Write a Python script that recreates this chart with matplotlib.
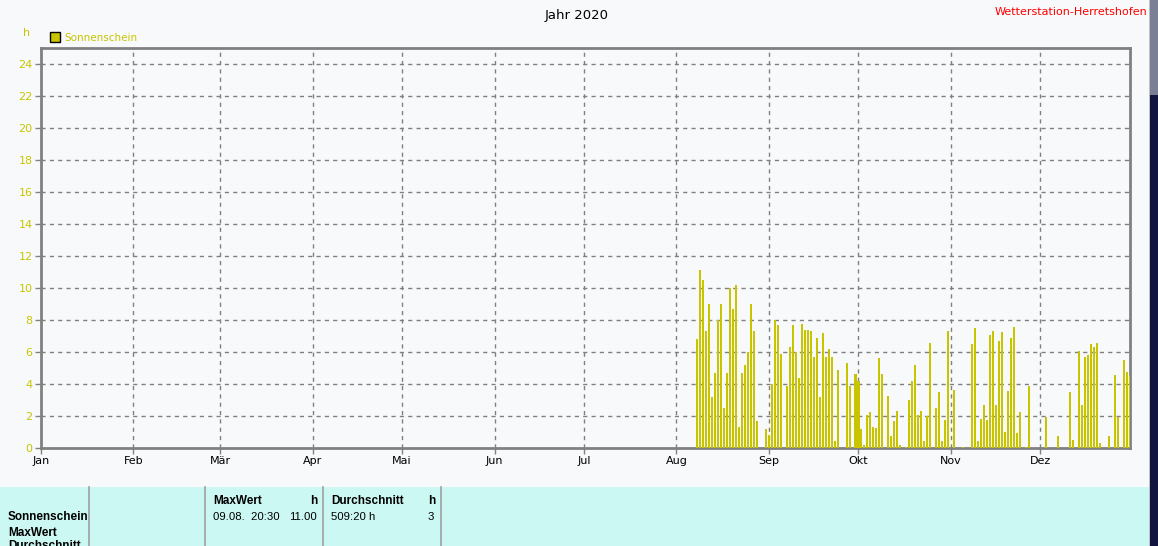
import numpy as np
import matplotlib
matplotlib.use("Agg")
import matplotlib.pyplot as plt
import matplotlib.dates as mdates
from matplotlib.patches import Rectangle

# daily sunshine hours 2020 (only days with a value)
aug_days = [8, 9, 10, 11, 12, 13, 14, 15, 16, 17, 18, 19, 20, 21, 22, 23, 24, 25, 26, 27, 28, 31]
aug_vals = [6.8, 11.1, 10.5, 7.3, 9.0, 3.2, 4.7, 8.0, 9.0, 2.5, 4.7, 10.0, 8.7, 10.2, 1.3, 4.7, 5.2, 6.0, 9.0, 7.3, 1.7, 1.2]
sep_days = [1, 2, 3, 4, 5, 7, 8, 9, 10, 11, 12, 13, 14, 15, 16, 17, 18, 19, 20, 21, 22, 23, 24, 27, 28, 30]
sep_vals = [0.8, 4.0, 8.0, 7.7, 5.9, 3.9, 6.3, 7.7, 6.0, 4.4, 7.75, 7.4, 7.4, 7.3, 5.7, 6.9, 3.2, 7.2, 5.7, 6.2, 5.7, 0.44, 4.9, 5.3, 3.9, 4.6]
okt_days = [1, 2, 3, 4, 5, 6, 7, 8, 9, 11, 12, 13, 14, 15, 17, 18, 19, 20, 21, 22, 23, 24, 25, 27, 28, 29, 30, 31]
okt_vals = [4.2, 1.2, 0.2, 2.06, 2.25, 1.3, 1.25, 5.6, 4.6, 3.25, 0.75, 1.7, 2.3, 0.2, 0.05, 3.0, 4.2, 5.2, 2.06, 2.3, 0.44, 2.0, 6.56, 2.5, 3.5, 0.44, 1.75, 7.3]
nov_days = [2, 5, 8, 9, 10, 11, 12, 13, 14, 15, 16, 17, 18, 19, 20, 21, 22, 23, 24, 26, 27]
nov_vals = [3.6, 0.05, 6.5, 7.5, 0.44, 1.8, 2.7, 1.75, 7.06, 7.3, 2.7, 6.7, 7.25, 1.0, 3.56, 6.9, 7.56, 0.94, 2.25, 0.05, 3.9]
dez_days = [3, 7, 11, 12, 14, 15, 16, 17, 18, 19, 20, 21, 24, 26, 27, 29, 30, 31]
dez_vals = [1.94, 0.75, 3.5, 0.5, 6.06, 2.7, 5.7, 5.8, 6.5, 6.3, 6.56, 0.3, 0.75, 4.56, 1.94, 5.5, 4.75, 4.5]

month_labels = ["Jan", "Feb", "Mär", "Apr", "Mai", "Jun", "Jul", "Aug", "Sep", "Okt", "Nov", "Dez"]

dates = []
vals = []
for m, d_list, v_list in [(8, aug_days, aug_vals), (9, sep_days, sep_vals), (10, okt_days, okt_vals),
                          (11, nov_days, nov_vals), (12, dez_days, dez_vals)]:
    for d, v in zip(d_list, v_list):
        dates.append(np.datetime64("2020-%02d-%02d" % (m, d)))
        vals.append(v)
x = mdates.date2num(np.array(dates, dtype="datetime64[D]"))

W, H = 1158, 546
olive = "#c8c400"
fig = plt.figure(figsize=(W / 100, H / 100), dpi=100)
fig.patch.set_facecolor("#f8f9fb")

# background layer in pixel coords for the panel / decorations
bg = fig.add_axes([0, 0, 1, 1], zorder=0)
bg.set_xlim(0, W)
bg.set_ylim(H, 0)
bg.axis("off")
bg.add_patch(Rectangle((0, 487), 1149, 60, facecolor="#ccf8f4", edgecolor="none"))
for xv in [89, 205, 323, 441]:
    bg.plot([xv, xv], [487, 546], color="#a0a0a0", lw=1.2)
bg.add_patch(Rectangle((1150, 0), 8, 546, facecolor="#12153f", edgecolor="none"))
bg.add_patch(Rectangle((1150, 0), 8, 95, facecolor="#7a7f95", edgecolor="none"))
bg.add_patch(Rectangle((1149, 0), 1, 546, facecolor="#c0c0c0", edgecolor="none"))

bg.text(577, 15, "Jahr 2020", ha="center", va="center", fontsize=9.5, color="black")
bg.text(1147, 12, "Wetterstation-Herretshofen", ha="right", va="center", fontsize=8, color="red")
bg.text(27, 33, "h", ha="center", va="center", fontsize=8, color=olive)
bg.add_patch(Rectangle((50, 32), 10, 10, facecolor=olive, edgecolor="black", lw=1))
bg.text(64, 38, "Sonnenschein", ha="left", va="center", fontsize=7.5, color=olive)

# table text
bold = dict(family="Liberation Sans", fontsize=8.5, fontweight="bold", color="black", va="center")
norm = dict(family="Liberation Sans", fontsize=8.2, color="black", va="center")
bg.text(8, 517, "Sonnenschein", ha="left", **bold)
bg.text(8, 533, "MaxWert", ha="left", **bold)
bg.text(8, 546, "Durchschnitt", ha="left", **bold)
bg.text(213, 501, "MaxWert", ha="left", **bold)
bg.text(317, 501, "h", ha="right", **bold)
bg.text(331, 501, "Durchschnitt", ha="left", **bold)
bg.text(435, 501, "h", ha="right", **bold)
bg.text(213, 517, "09.08.  20:30", ha="left", **norm)
bg.text(317, 517, "11.00", ha="right", **norm)
bg.text(331, 517, "509:20 h", ha="left", **norm)
bg.text(434, 517, "3", ha="right", **norm)

# main chart
ax = fig.add_axes([41 / W, 1 - 448 / H, (1130 - 41) / W, (448 - 48) / H], zorder=1)
ax.set_facecolor("#f8f9fb")
ax.bar(x, vals, width=0.68, color=olive, zorder=3)

month_starts = mdates.date2num(np.array(["2020-%02d-01" % m for m in range(1, 13)], dtype="datetime64[D]"))
ax.set_xlim(mdates.date2num(np.datetime64("2020-01-01")), mdates.date2num(np.datetime64("2020-12-31")))
ax.set_ylim(0, 25)
ax.set_xticks(month_starts)
ax.set_xticklabels(month_labels, fontsize=8, color="black")
ax.set_yticks(np.arange(0, 25, 2))
ax.set_yticklabels([str(v) for v in range(0, 25, 2)], fontsize=8, color=olive)
ax.tick_params(axis="both", length=4, width=1, color="#808080", pad=2)

for ms in month_starts[1:]:
    ax.axvline(ms, color="#808080", lw=1, ls=(0, (3, 3)), zorder=1)
for yv in range(2, 25, 2):
    ax.axhline(yv, color="#808080", lw=1, ls=(0, (3, 3)), zorder=1)

for s in ax.spines.values():
    s.set_color("#808080")
    s.set_linewidth(2)

fig.savefig("out.png", dpi=100, facecolor=fig.get_facecolor())
